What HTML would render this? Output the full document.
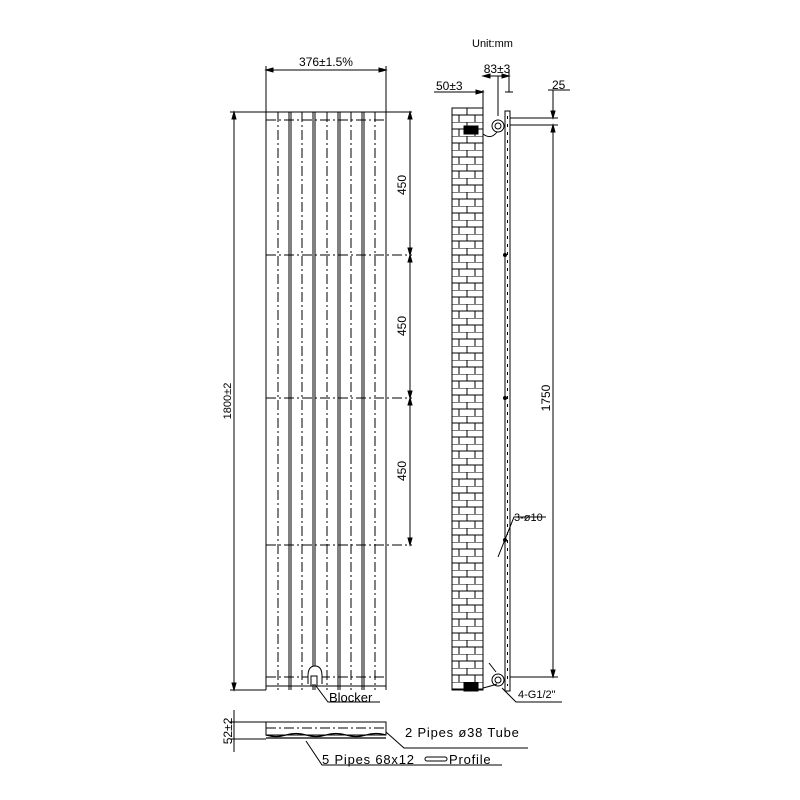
<!DOCTYPE html>
<html><head><style>body{margin:0;background:#fff}svg{display:block}text{font-family:"Liberation Sans",sans-serif;fill:#000}</style></head><body>
<svg width="800" height="800" viewBox="0 0 800 800" xmlns="http://www.w3.org/2000/svg">
<defs>
<pattern id="brick" x="452" y="108" width="31" height="14" patternUnits="userSpaceOnUse">
<rect width="31" height="14" fill="#fff"/>
<path d="M0 0H31M0 7H31M15 0V7M7 7V14M23 7V14" stroke="#000" stroke-width="1"/>
</pattern>
</defs>
<g stroke="#000" stroke-width="1" fill="none">
<line x1="266" y1="66" x2="266" y2="112"/><line x1="386" y1="66" x2="386" y2="112"/>
<line x1="266" y1="70" x2="386" y2="70"/>
<path d="M266 70l7-2v4zM386 70l-7-2v4z" fill="#000"/>
<line x1="230" y1="112" x2="412" y2="112"/>
<line x1="230" y1="690" x2="266" y2="690"/>
<line x1="234" y1="112" x2="234" y2="690"/>
<path d="M234 112l-2 7h4zM234 690l-2-7h4z" fill="#000"/>
<line x1="410" y1="112" x2="410" y2="545"/>
<path d="M410 112l-2 7h4zM410 255l-2-7h4zM410 255l-2 7h4zM410 398l-2-7h4zM410 398l-2 7h4zM410 545l-2-7h4z" fill="#000"/>
<g stroke-dasharray="10 3 2 3">
<line x1="266" y1="255" x2="412" y2="255"/><line x1="266" y1="398" x2="412" y2="398"/><line x1="266" y1="545" x2="412" y2="545"/>
<line x1="266" y1="120" x2="386" y2="120"/><line x1="266" y1="677" x2="386" y2="677"/>
<line x1="278" y1="112" x2="278" y2="690"/><line x1="302" y1="112" x2="302" y2="690"/><line x1="327" y1="112" x2="327" y2="690"/><line x1="351" y1="112" x2="351" y2="690"/><line x1="375" y1="112" x2="375" y2="690"/>
</g>
<line x1="266" y1="112" x2="266" y2="690"/><line x1="289" y1="112" x2="289" y2="690"/><line x1="291" y1="112" x2="291" y2="690"/>
<line x1="313" y1="112" x2="313" y2="690"/><line x1="315" y1="112" x2="315" y2="690"/>
<line x1="338" y1="112" x2="338" y2="690"/><line x1="340" y1="112" x2="340" y2="690"/>
<line x1="362" y1="112" x2="362" y2="690"/><line x1="364" y1="112" x2="364" y2="690"/>
<line x1="386" y1="112" x2="386" y2="690"/>
<line x1="266" y1="686" x2="386" y2="686"/>
<path d="M308 684v-8q0-10 7-10t7 10v8" fill="#fff"/>
<rect x="311" y="676" width="6" height="10"/>
<path d="M316 686l12 16h52"/>
<rect x="452" y="108" width="31" height="582" fill="url(#brick)"/>
<line x1="483" y1="90" x2="483" y2="108"/>
<line x1="434" y1="92" x2="482" y2="92"/><path d="M483 92l-7-2v4z" fill="#000"/>
<line x1="483" y1="76" x2="509" y2="76"/><line x1="498" y1="76" x2="498" y2="116"/><line x1="509" y1="70" x2="509" y2="92"/>
<line x1="505" y1="92" x2="513" y2="92"/>
<path d="M483 76l7-2v4zM509 76l-7-2v4z" fill="#000"/>
<rect x="505" y="111" width="5" height="580" fill="#fff"/>
<line x1="507.5" y1="116" x2="507.5" y2="686" stroke-dasharray="3 5"/>
<circle cx="498" cy="126" r="6" fill="#fff"/><circle cx="498" cy="126" r="3"/>
<circle cx="498" cy="680" r="6" fill="#fff"/><circle cx="498" cy="680" r="3"/>
<path d="M483 134q8 6 14-2"/><path d="M483 688q8 -2 14-4"/>
<rect x="464" y="126" width="14" height="8" fill="#000"/><rect x="464" y="683" width="14" height="8" fill="#000"/>
<line x1="510" y1="118" x2="558" y2="118"/><line x1="510" y1="125" x2="558" y2="125"/>
<line x1="553" y1="90" x2="553" y2="118"/><line x1="548" y1="90" x2="570" y2="90"/>
<line x1="553" y1="125" x2="553" y2="677"/><line x1="510" y1="677" x2="558" y2="677"/>
<path d="M553 118l-2-7h4zM553 125l-2 7h4zM553 677l-2-7h4z" fill="#000"/>
<path d="M498 557l16-40h32"/><circle cx="505" cy="540" r="1.5" fill="#000"/>
<circle cx="505" cy="255" r="1.5" fill="#000"/><circle cx="505" cy="398" r="1.5" fill="#000"/>
<path d="M502 688l14 14h46"/><line x1="489" y1="663" x2="496" y2="672"/>
<rect x="266" y="722" width="120" height="13"/>
<line x1="266" y1="728" x2="386" y2="728" stroke-dasharray="10 3 2 3"/>
<path d="M266 735q10 3 20 0t20 0t20 0t20 0t20 0t20 0M266 738H386" stroke-width="1.2"/>
<line x1="230" y1="722" x2="266" y2="722"/><line x1="230" y1="739" x2="266" y2="739"/>
<line x1="234" y1="710" x2="234" y2="752"/>
<path d="M386 732l18 16h124"/>
<path d="M306 741l16 24h180"/>
<rect x="425" y="757" width="22" height="4" rx="2"/>
</g>
<text x="326" y="66" font-size="12" text-anchor="middle">376±1.5%</text>
<text transform="translate(231,401) rotate(-90)" font-size="11" text-anchor="middle">1800±2</text>
<g font-size="12" text-anchor="middle">
<text transform="translate(406,185) rotate(-90)">450</text>
<text transform="translate(406,326) rotate(-90)">450</text>
<text transform="translate(406,471) rotate(-90)">450</text>
<text transform="translate(550,398) rotate(-90)">1750</text>
<text transform="translate(232,731) rotate(-90)">52±2</text>
</g>
<text x="472" y="47" font-size="11">Unit:mm</text>
<text x="497" y="73" font-size="12" text-anchor="middle">83±3</text>
<text x="436" y="90" font-size="12">50±3</text>
<text x="552" y="89" font-size="12">25</text>
<text x="514" y="521" font-size="11">3-ø10</text>
<text x="518" y="698" font-size="11">4-G1/2"</text>
<text x="329" y="702" font-size="13">Blocker</text>
<text x="405" y="737" font-size="13" letter-spacing="0.8">2 Pipes ø38 Tube</text>
<text x="322" y="764" font-size="13" letter-spacing="0.8">5 Pipes 68x12</text>
<text x="449" y="764" font-size="13" letter-spacing="0.8">Profile</text>
</svg>
</body></html>
